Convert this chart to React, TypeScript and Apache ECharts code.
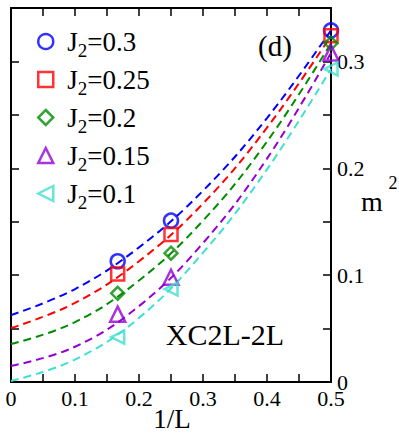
import React, { useEffect, useRef } from "react";
import * as echarts from "echarts";

// 1/L positions of measured points
const invL = [0.1667, 0.25, 0.5];
// measured m^2 values
const j03 = [0.113, 0.151, 0.329];
const j025 = [0.101, 0.138, 0.324];
const j02 = [0.083, 0.1205, 0.317];
const j015 = [0.0635, 0.098, 0.308];
const j01 = [0.042, 0.087, 0.293];

// dashed fit curves
const fitX = [0, 0.1, 0.2, 0.3, 0.4, 0.5];
const fit03 = [0.0626, 0.087, 0.126, 0.179, 0.247, 0.329];
const fit025 = [0.0505, 0.074, 0.113, 0.167, 0.238, 0.324];
const fit02 = [0.0355, 0.056, 0.095, 0.151, 0.225, 0.317];
const fit015 = [0.015, 0.033, 0.071, 0.13, 0.209, 0.308];
const fit01 = [0.001, 0.021, 0.06, 0.121, 0.199, 0.293];

const labels = ["0.3", "0.25", "0.2", "0.15", "0.1"];
const colors = ["#0000ff", "#ff0000", "#008c00", "#9400d3", "#40e0d0"];
const LEFT_TRI = "path://M0,5L10,0L10,10Z";
const symbols = ["circle", "rect", "diamond", "triangle", LEFT_TRI];
const sizes = [14, 13, 13, 15, 13];
const pointSets = [j03, j025, j02, j015, j01];
const fitSets = [fit03, fit025, fit02, fit015, fit01];

const FONT = "Liberation Serif";

const fmt = (v: number) => {
  const r = Math.round(v * 100);
  if (r === 0) return "0";
  return r % 10 === 0 ? (r / 100).toFixed(1) : "";
};

export default function App() {
  const ref = useRef<HTMLDivElement>(null);
  useEffect(() => {
    if (!ref.current) return;
    const chart = echarts.init(ref.current, undefined, { renderer: "svg" });
    const axisCommon = {
      type: "value" as const,
      axisLine: { show: true, onZero: false, lineStyle: { color: "#000", width: 2 } },
      axisTick: { show: true, inside: true, length: 8, lineStyle: { color: "#000", width: 1.5 } },
      splitLine: { show: false },
    };
    const xCommon = { ...axisCommon, min: 0, max: 0.5, interval: 0.05 };
    const yCommon = { ...axisCommon, min: 0, max: 0.35, interval: 0.05 };

    const series: any[] = [];
    fitSets.forEach((f, i) => {
      series.push({
        type: "line",
        name: "fit" + labels[i],
        data: fitX.map((x, k) => [x, f[k]]),
        smooth: 0.4,
        showSymbol: false,
        symbol: "none",
        xAxisIndex: 0,
        yAxisIndex: 0,
        lineStyle: { color: colors[i], width: 2, type: [8, 5] },
        z: 2,
      });
    });
    pointSets.forEach((p, i) => {
      series.push({
        type: "scatter",
        name: labels[i],
        data: invL.map((x, k) => [x, p[k]]),
        symbol: symbols[i],
        symbolSize: sizes[i],
        xAxisIndex: 0,
        yAxisIndex: 0,
        itemStyle: { color: "transparent", borderColor: colors[i], borderWidth: 2.5 },
        z: 5,
      });
    });

    chart.setOption({
      animation: false,
      backgroundColor: "#fff",
      textStyle: { fontFamily: FONT },
      grid: { left: 11, right: 68, top: 8, bottom: 52 },
      xAxis: [
        {
          ...xCommon,
          position: "bottom",
          axisLabel: { formatter: fmt, fontFamily: FONT, fontSize: 22, color: "#000", margin: 5 },
        },
        { ...xCommon, position: "top", axisLabel: { show: false } },
      ],
      yAxis: [
        {
          ...yCommon,
          position: "right",
          axisLabel: { formatter: fmt, fontFamily: FONT, fontSize: 22, color: "#000", margin: 6 },
        },
        { ...yCommon, position: "left", axisLabel: { show: false } },
      ],
      legend: {
        orient: "vertical",
        left: 32,
        top: 23,
        itemWidth: 15,
        itemHeight: 15,
        itemGap: 6,
        data: labels.map((l, i) => ({
          name: l,
          icon: symbols[i],
          itemStyle: { color: "transparent", borderColor: colors[i], borderWidth: 2.5 },
        })),
        formatter: (name: string) => `{j|J}{s|2}{e|=${name}}`,
        textStyle: {
          color: "#000",
          fontFamily: FONT,
          fontSize: 27,
          rich: {
            j: { fontFamily: FONT, fontSize: 27, color: "#000", padding: [0, 0, 0, 9] },
            s: { fontFamily: FONT, fontSize: 19, color: "#000", padding: [18, 0, 0, 0] },
            e: { fontFamily: FONT, fontSize: 27, color: "#000" },
          },
        },
      },
      graphic: [
        {
          type: "text",
          x: 275,
          y: 46,
          style: { text: "(d)", fontFamily: FONT, fontSize: 29, fill: "#000", align: "center", verticalAlign: "middle" },
        },
        {
          type: "text",
          x: 225,
          y: 334,
          style: { text: "XC2L-2L", fontFamily: FONT, fontSize: 30, fill: "#000", align: "center", verticalAlign: "middle" },
        },
        {
          type: "text",
          x: 172,
          y: 419,
          style: { text: "1/L", fontFamily: FONT, fontSize: 27, fill: "#000", align: "center", verticalAlign: "middle" },
        },
        {
          type: "text",
          x: 372,
          y: 201,
          style: { text: "m", fontFamily: FONT, fontSize: 28, fill: "#000", align: "center", verticalAlign: "middle" },
        },
        {
          type: "text",
          x: 393,
          y: 183,
          style: { text: "2", fontFamily: FONT, fontSize: 18, fill: "#000", align: "center", verticalAlign: "middle" },
        },
      ],
      series,
    });
    return () => chart.dispose();
  }, []);
  return <div ref={ref} style={{ width: 399, height: 434, position: "absolute", left: 0, top: 0 }} />;
}
